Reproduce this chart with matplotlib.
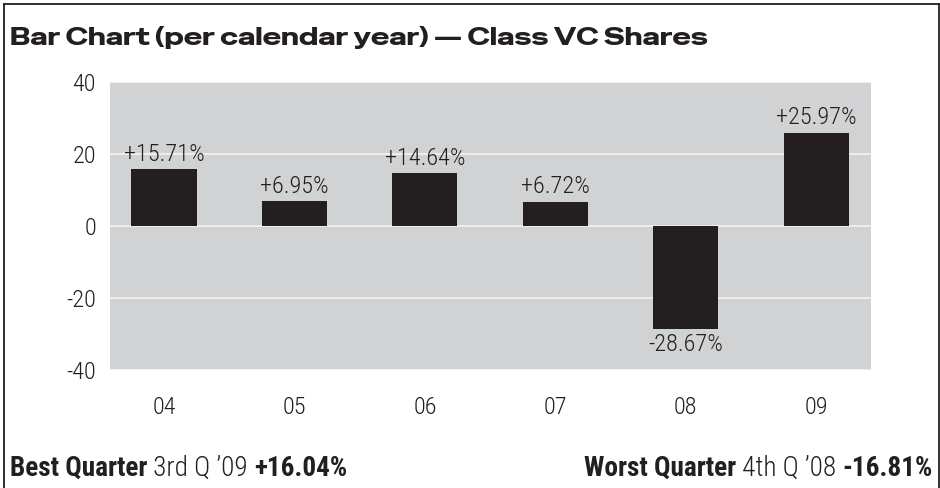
import matplotlib
matplotlib.use("Agg")
import matplotlib.pyplot as plt
from matplotlib.lines import Line2D

plt.rcParams["axes.unicode_minus"] = False

years = ["04", "05", "06", "07", "08", "09"]
returns = [15.71, 6.95, 14.64, 6.72, -28.67, 25.97]
labels = ["+15.71%", "+6.95%", "+14.64%", "+6.72%", "-28.67%", "+25.97%"]
yticks = [-40, -20, 0, 20, 40]
title = "Bar Chart (per calendar year) \u2014 Class VC Shares"
best = ["Best Quarter", " 3rd Q \u201909 ", "+16.04%"]
worst = ["Worst Quarter", " 4th Q \u201908 ", "-16.81%"]

W, H, DPI = 940, 488, 100
fig = plt.figure(figsize=(W / DPI, H / DPI), dpi=DPI)
fig.patch.set_facecolor("white")

COND = ["Roboto Condensed", "DejaVu Sans"]
WIDE = ["Special Gothic Expanded One", "Encode Sans Expanded", "DejaVu Sans"]
DARK = "#231f20"
TXT = "#231f20"
FS = 17.5

ax = fig.add_axes([110 / W, 1 - 370 / H, (871 - 110) / W, (370 - 82) / H])
ax.set_facecolor("#d1d2d4")
x = list(range(len(years)))
ax.bar(x, returns, width=0.5, color=DARK, zorder=3)
ax.set_xlim(-0.414, 5.42)
ax.set_ylim(-40, 40)
ax.set_yticks(yticks)
ax.set_xticks(x)
ax.set_xticklabels(years)
for s in ax.spines.values():
    s.set_visible(False)
ax.grid(axis="y", color="#f4f4f4", lw=1.2, zorder=1)
ax.set_axisbelow(True)
ax.tick_params(length=0, labelsize=FS, labelcolor=TXT)
ax.tick_params(axis="y", pad=10)
ax.tick_params(axis="x", pad=19)
for lab in ax.get_xticklabels() + ax.get_yticklabels():
    lab.set_family(COND)
    lab.set_fontweight(300)

for xi, v, lab in zip(x, returns, labels):
    if v >= 0:
        ax.annotate(lab, (xi, v), xytext=(0, 2.5), textcoords="offset points",
                    ha="center", va="bottom", fontsize=FS, family=COND, fontweight=300,
                    color=TXT, zorder=4)
    else:
        ax.annotate(lab, (xi, v), xytext=(0, -3), textcoords="offset points",
                    ha="center", va="top", fontsize=FS, family=COND, fontweight=300,
                    color=TXT, zorder=4)

# border
lc = "#231f20"
for xs, ys in [([3.5, 3.5], [H, 3.5]), ([3.5, 938.5], [3.5, 3.5]), ([938.5, 938.5], [3.5, H])]:
    fig.add_artist(Line2D([v / W for v in xs], [1 - v / H for v in ys],
                          transform=fig.transFigure, color=lc, lw=1.3))

fig.canvas.draw()
renderer = fig.canvas.get_renderer()

# title, sized to span the same width as the reference
tt = fig.text(10 / W, 1 - 45 / H, title, fontsize=15, family=WIDE,
              color=DARK, ha="left", va="baseline")
w0 = tt.get_window_extent(renderer).width
tt.set_fontsize(15 * 702 / w0)

styles = [dict(family=COND, fontweight="bold"),
          dict(family=COND, fontweight=300),
          dict(family=COND, fontweight="bold")]
sizes = [18, 18, 18]
yb = 1 - 476 / H


def place(parts, x0, align):
    arts = []
    xp = x0
    seq = list(zip(parts, styles, sizes))
    if align == "right":
        seq = seq[::-1]
    for txt, st, sz in seq:
        t = fig.text(xp / W, yb, txt, ha=align, va="baseline", color=DARK, fontsize=sz, **st)
        bb = t.get_window_extent(renderer)
        xp = bb.x1 if align == "left" else bb.x0
        arts.append(t)
    return arts, xp


arts, xe = place(best, 10, "left")
scale = 338 / (xe - 10)
for a in arts:
    a.remove()
sizes = [s * scale for s in sizes]
place(best, 10, "left")
place(worst, 933, "right")

fig.savefig("out.png", dpi=DPI, facecolor="white")
